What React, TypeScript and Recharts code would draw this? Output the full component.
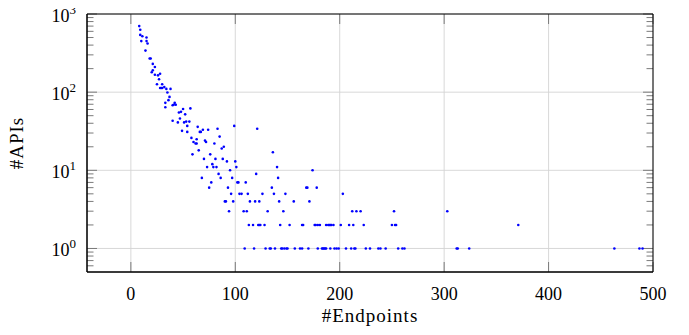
import React from 'react';
import { ScatterChart, Scatter, XAxis, YAxis, CartesianGrid, ReferenceLine } from 'recharts';

// #Endpoints per API (x) and number of APIs with that many endpoints (y)
const endpoints = [
  8, 9, 9, 10, 11, 14, 15, 15, 16, 18, 19, 20, 21, 21, 23, 23, 25, 26, 27, 28,
  28, 29, 30, 30, 32, 33, 33, 34, 35, 36, 37, 38, 40, 40, 41, 42, 43, 45, 46, 47,
  48, 49, 50, 51, 52, 53, 54, 54, 56, 57, 58, 59, 60, 62, 63, 63, 64, 65, 66, 67,
  68, 69, 70, 71, 72, 73, 74, 75, 76, 77, 78, 79, 80, 81, 82, 83, 84, 85, 86, 87,
  88, 89, 90, 91, 92, 93, 94, 95, 96, 97, 98, 99, 100, 101, 102, 103, 104, 106, 108, 109,
  110, 111, 112, 113, 114, 117, 118, 119, 120, 121, 122, 123, 123, 124, 126, 128, 129, 131, 133, 134,
  135, 136, 137, 138, 140, 141, 142, 143, 144, 145, 146, 147, 148, 149, 150, 152, 156, 157, 162, 164,
  164, 165, 168, 169, 170, 171, 174, 176, 177, 178, 179, 179, 181, 183, 184, 185, 186, 187, 187, 189,
  190, 191, 191, 192, 194, 195, 197, 199, 201, 203, 206, 209, 211, 212, 213, 214, 215, 216, 220, 223,
  225, 229, 237, 239, 244, 250, 252, 253, 254, 256, 260, 262, 303, 312, 313, 324, 371, 463, 487, 490,
];
const apis = [
  700, 630, 540, 450, 520, 340, 500, 450, 420, 270, 270, 180, 190, 230, 167, 210, 126, 164, 146, 113,
  172, 113, 113, 126, 116, 73, 64, 110, 99, 79, 87, 110, 68, 43, 69, 73, 69, 41, 55, 46,
  56, 32, 61, 41, 52, 42, 37, 31, 42, 62, 26, 16, 23, 22, 25, 22, 36, 18, 31, 31,
  8, 33, 14, 24, 23, 11, 33, 6, 16, 7, 12, 11, 22, 14, 11, 34, 9, 27, 8, 19,
  14, 20, 4, 4, 13, 6, 3, 10, 5, 8, 4, 37, 13, 11, 7, 7, 5, 5, 3, 1,
  7, 3, 5, 2, 4, 2, 1, 4, 9, 34, 2, 2, 4, 2, 5, 2, 1, 3, 1, 1,
  6, 17, 5, 1, 11, 8, 4, 2, 1, 1, 3, 1, 5, 1, 1, 2, 4, 1, 1, 1,
  2, 2, 6, 6, 1, 4, 10, 2, 2, 6, 1, 2, 2, 1, 1, 1, 1, 1, 2, 2,
  2, 1, 2, 2, 2, 1, 1, 1, 2, 5, 1, 2, 1, 3, 2, 1, 1, 3, 3, 2,
  1, 1, 1, 1, 1, 2, 3, 2, 2, 1, 1, 1, 3, 1, 1, 1, 2, 1, 1, 1,
];

const xTicks = [0, 100, 200, 300, 400, 500];
const yTicks = [1, 10, 100, 1000];
const yMinorTicks = [
  0.6, 0.7, 0.8, 0.9, 2, 3, 4, 5, 6, 7, 8, 9, 20, 30, 40, 50, 60, 70, 80, 90,
  200, 300, 400, 500, 600, 700, 800, 900,
];
const xDomain = [-42, 500];
const yDomain = [0.5, 1000];
const xTitle = '#Endpoints';
const yTitle = '#APIs';

const points = endpoints.map((x, i) => ({ x, y: apis[i] }));

const FONT = "'Liberation Serif', 'Times New Roman', serif";
const TICK_COLOR = '#7a7a7a';
const GRID_COLOR = '#d4d4d4';

const XTick = (props: any) => {
  const { x, y, payload } = props;
  return (
    <text x={x} y={y + 27.6} textAnchor="middle" style={{ fontFamily: FONT }} fontSize={18} fill="#000">
      {payload.value}
    </text>
  );
};

const YTick = (props: any) => {
  const { x, y, payload } = props;
  const exp = Math.round(Math.log10(payload.value));
  return (
    <text x={x - 11} y={y + 7.5} textAnchor="end" style={{ fontFamily: FONT }} fontSize={18} fill="#000">
      <tspan>10</tspan>
      <tspan dy={-7.5} fontSize={13}>{exp}</tspan>
    </text>
  );
};

const XLabel = (props: any) => {
  const vb = props.viewBox || { x: 87, y: 272, width: 566, height: 55 };
  return (
    <text
      x={vb.x + vb.width / 2}
      y={vb.y + 50}
      textAnchor="middle"
      style={{ fontFamily: FONT, letterSpacing: 1 }}
      fontSize={19}
      fill="#000"
    >
      {xTitle}
    </text>
  );
};

const YLabel = (props: any) => {
  const vb = props.viewBox || { x: 0, y: 14, width: 87, height: 258 };
  const cx = vb.x + 22.5;
  const cy = vb.y + vb.height / 2;
  return (
    <text
      x={cx}
      y={cy}
      transform={`rotate(-90, ${cx}, ${cy})`}
      textAnchor="middle"
      style={{ fontFamily: FONT, letterSpacing: 1 }}
      fontSize={19}
      fill="#000"
    >
      {yTitle}
    </text>
  );
};

const Dot = (props: any) => {
  const { cx, cy } = props;
  if (cx == null || cy == null) return null;
  return <circle cx={cx} cy={cy} r={1.3} fill="#0000ff" />;
};

// inward tick marks on both vertical sides of the frame
const horizontalTicks = (len: number) => (p: any) => {
  const a = Math.min(p.x1, p.x2);
  const b = Math.max(p.x1, p.x2);
  return (
    <g>
      <line x1={a} y1={p.y1} x2={a + len} y2={p.y1} stroke={TICK_COLOR} strokeWidth={1} />
      <line x1={b - len} y1={p.y1} x2={b} y2={p.y1} stroke={TICK_COLOR} strokeWidth={1} />
    </g>
  );
};

// inward tick marks on top and bottom of the frame
const verticalTicks = (len: number) => (p: any) => {
  const a = Math.min(p.y1, p.y2);
  const b = Math.max(p.y1, p.y2);
  return (
    <g>
      <line x1={p.x1} y1={a} x2={p.x1} y2={a + len} stroke={TICK_COLOR} strokeWidth={1} />
      <line x1={p.x1} y1={b - len} x2={p.x1} y2={b} stroke={TICK_COLOR} strokeWidth={1} />
    </g>
  );
};

export default function App() {
  return (
    <div style={{ width: 689, height: 327, margin: '-8px 0 0 -8px', fontFamily: FONT }}>
      <ScatterChart width={689} height={327} margin={{ top: 14, right: 36, bottom: 0, left: 0 }}>
        <CartesianGrid stroke={GRID_COLOR} strokeWidth={0.9} />
        <XAxis
          type="number"
          dataKey="x"
          domain={xDomain}
          ticks={xTicks}
          interval={0}
          allowDataOverflow
          height={55}
          tickSize={0}
          tickMargin={0}
          tickLine={false}
          tick={<XTick />}
          axisLine={{ stroke: '#000', strokeWidth: 1 }}
          label={{ content: XLabel }}
        />
        <YAxis
          type="number"
          dataKey="y"
          scale="log"
          domain={yDomain}
          ticks={yTicks}
          interval={0}
          allowDataOverflow
          width={87}
          tickSize={0}
          tickMargin={0}
          tickLine={false}
          tick={<YTick />}
          axisLine={{ stroke: '#000', strokeWidth: 1 }}
          label={{ content: YLabel }}
        />
        {yMinorTicks.map((v) => (
          <ReferenceLine key={`ym${v}`} y={v} ifOverflow="visible" stroke={TICK_COLOR} shape={horizontalTicks(6.5)} />
        ))}
        {yTicks.map((v) => (
          <ReferenceLine key={`yM${v}`} y={v} ifOverflow="visible" stroke={TICK_COLOR} shape={horizontalTicks(10)} />
        ))}
        {xTicks.map((v) => (
          <ReferenceLine key={`xM${v}`} x={v} ifOverflow="visible" stroke={TICK_COLOR} shape={verticalTicks(10)} />
        ))}
        <ReferenceLine x={xDomain[0]} ifOverflow="visible" stroke="#000" strokeWidth={1} />
        <ReferenceLine x={xDomain[1]} ifOverflow="visible" stroke="#000" strokeWidth={1} />
        <ReferenceLine y={yDomain[1]} ifOverflow="visible" stroke="#000" strokeWidth={1} />
        <ReferenceLine y={yDomain[0]} ifOverflow="visible" stroke="#000" strokeWidth={1} />
        <Scatter data={points} shape={Dot} isAnimationActive={false} />
      </ScatterChart>
    </div>
  );
}
